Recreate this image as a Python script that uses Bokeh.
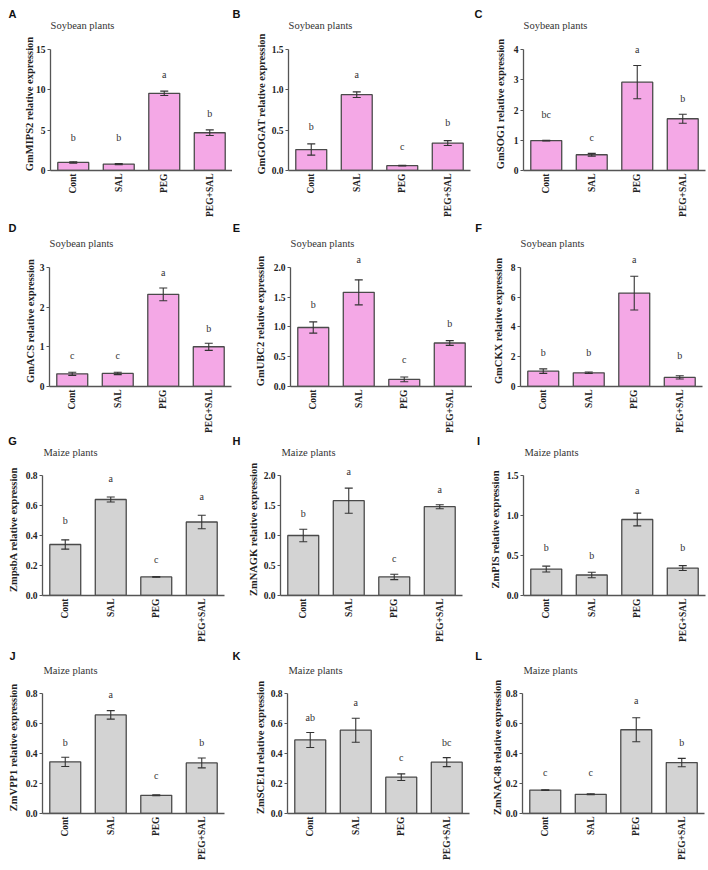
import math
from bokeh.plotting import figure
from bokeh.models import (FactorRange, Range1d, FixedTicker, NumeralTickFormatter,
                          Whisker, TeeHead, ColumnDataSource, LabelSet)
from bokeh.core.properties import value
from bokeh.layouts import row, column
from bokeh.embed import file_html
from bokeh.resources import INLINE

# ---------------- data ----------------
categories = ["Cont", "SAL", "PEG", "PEG+SAL"]

panel_letters = ["A", "B", "C", "D", "E", "F", "G", "H", "I", "J", "K", "L"]
species = ["Soybean plants"] * 6 + ["Maize plants"] * 6
genes = ["GmMIPS2", "GmGOGAT", "GmSOG1", "GmACS", "GmUBC2", "GmCKX",
         "ZmpsbA", "ZmNAGK", "ZmPIS", "ZmVPP1", "ZmSCE1d", "ZmNAC48"]

means_A = [1.0, 0.8, 9.57, 4.68]
err_A = [0.08, 0.07, 0.27, 0.35]
sig_A = ["b", "b", "a", "b"]
sigy_A = [4.1, 4.1, 11.9, 7.05]
ticks_A = [0, 5, 10, 15]

means_B = [0.26, 0.94, 0.06, 0.34]
err_B = [0.07, 0.035, 0.005, 0.03]
sig_B = ["b", "a", "c", "b"]
sigy_B = [0.54, 1.19, 0.30, 0.59]
ticks_B = [0.0, 0.5, 1.0, 1.5]

means_C = [0.99, 0.52, 2.92, 1.71]
err_C = [0.01, 0.045, 0.55, 0.15]
sig_C = ["bc", "c", "a", "b"]
sigy_C = [1.85, 1.10, 4.0, 2.38]
ticks_C = [0, 1, 2, 3, 4]

means_D = [0.32, 0.33, 2.32, 1.0]
err_D = [0.04, 0.03, 0.16, 0.09]
sig_D = ["c", "c", "a", "b"]
sigy_D = [0.79, 0.79, 2.87, 1.46]
ticks_D = [0, 1, 2, 3]

means_E = [0.99, 1.58, 0.12, 0.73]
err_E = [0.094, 0.21, 0.04, 0.04]
sig_E = ["b", "a", "c", "b"]
sigy_E = [1.38, 2.13, 0.46, 1.06]
ticks_E = [0.0, 0.5, 1.0, 1.5, 2.0]

means_F = [1.03, 0.92, 6.27, 0.61]
err_F = [0.15, 0.05, 1.13, 0.11]
sig_F = ["b", "b", "a", "b"]
sigy_F = [2.26, 2.26, 8.5, 2.08]
ticks_F = [0, 2, 4, 6, 8]

means_G = [0.34, 0.64, 0.124, 0.49]
err_G = [0.031, 0.017, 0.002, 0.045]
sig_G = ["b", "a", "c", "a"]
sigy_G = [0.50, 0.78, 0.24, 0.66]
ticks_G = [0.0, 0.2, 0.4, 0.6, 0.8]

means_H = [1.0, 1.58, 0.31, 1.48]
err_H = [0.105, 0.21, 0.045, 0.033]
sig_H = ["b", "a", "c", "a"]
sigy_H = [1.37, 2.07, 0.61, 1.76]
ticks_H = [0.0, 0.5, 1.0, 1.5, 2.0]

means_I = [0.33, 0.256, 0.95, 0.343]
err_I = [0.037, 0.035, 0.08, 0.03]
sig_I = ["b", "b", "a", "b"]
sigy_I = [0.60, 0.50, 1.31, 0.60]
ticks_I = [0.0, 0.5, 1.0, 1.5]

means_J = [0.344, 0.657, 0.121, 0.337]
err_J = [0.031, 0.028, 0.003, 0.033]
sig_J = ["b", "a", "c", "b"]
sigy_J = [0.474, 0.79, 0.253, 0.474]
ticks_J = [0.0, 0.2, 0.4, 0.6, 0.8]

means_K = [0.49, 0.555, 0.242, 0.342]
err_K = [0.05, 0.08, 0.022, 0.03]
sig_K = ["ab", "a", "c", "bc"]
sigy_K = [0.64, 0.74, 0.37, 0.474]
ticks_K = [0.0, 0.2, 0.4, 0.6, 0.8]

means_L = [0.156, 0.128, 0.558, 0.339]
err_L = [0.002, 0.003, 0.08, 0.028]
sig_L = ["c", "c", "a", "b"]
sigy_L = [0.275, 0.275, 0.75, 0.47]
ticks_L = [0.0, 0.2, 0.4, 0.6, 0.8]

all_means = [means_A, means_B, means_C, means_D, means_E, means_F,
             means_G, means_H, means_I, means_J, means_K, means_L]
all_errs = [err_A, err_B, err_C, err_D, err_E, err_F,
            err_G, err_H, err_I, err_J, err_K, err_L]
all_sigs = [sig_A, sig_B, sig_C, sig_D, sig_E, sig_F,
            sig_G, sig_H, sig_I, sig_J, sig_K, sig_L]
all_sigy = [sigy_A, sigy_B, sigy_C, sigy_D, sigy_E, sigy_F,
            sigy_G, sigy_H, sigy_I, sigy_J, sigy_K, sigy_L]
all_ticks = [ticks_A, ticks_B, ticks_C, ticks_D, ticks_E, ticks_F,
             ticks_G, ticks_H, ticks_I, ticks_J, ticks_K, ticks_L]
tick_formats = ["0", "0.0", "0", "0", "0.0", "0",
                "0.0", "0.0", "0.0", "0.0", "0.0", "0.0"]

# ---------------- layout / style ----------------
PINK = "#F4A8E6"
GRAY = "#D3D3D3"
EDGE = "#4a4a4a"
AXIS = "#555555"
SERIF = "Liberation Serif"
SANS = "Liberation Sans"

col_starts = [0, 232, 472]
page_right = 707
axis_x = [[50, 288, 523], [49, 290, 520], [42, 280, 523], [42, 287, 522]]
letter_x = [8, 232, 474]
row_tops = [49, 46, 40, 48]       # row start -> top tick
row_bottoms = [51, 47, 50, 48]    # zero line -> next row start
frame_hs = [121, 121, 120, 121]   # zero line -> top tick
letter_dy = [36, 40, 35, 38]      # letter centre above top tick
title_dy = [24, 24, 23, 23]       # species title centre above top tick
# y-axis title standoff per panel (tuned to the reference spacing)
label_standoff = [-2, 2, 5, 1, 5, 4, 4, 2, 3, 4, 2, 0]
FRAME_W = 182
EXT = 12          # extra plot height above the top tick (room for letters a/b/c)
GAP = 16          # part of the row top kept inside each panel figure
title_half_w = {"Soybean plants": 32, "Maize plants": 28}
LETTER_HALF_W = 4


def make_header(r):
    hh = row_tops[r] - GAP
    h = figure(width=page_right, height=hh, output_backend="svg", toolbar_location=None,
               x_range=Range1d(0, page_right), y_range=Range1d(0, hh),
               x_axis_location=None, y_axis_location=None,
               min_border=0, min_border_left=0, min_border_right=0,
               min_border_top=0, min_border_bottom=0,
               background_fill_color="white", border_fill_color="white")
    h.outline_line_color = None
    h.xgrid.visible = False
    h.ygrid.visible = False
    idx = [3 * r + c for c in range(3)]
    h.text(x=[letter_x[c] + LETTER_HALF_W for c in range(3)],
           y=[letter_dy[r] - GAP] * 3,
           text=[panel_letters[i] for i in idx],
           text_font=value(SANS), text_font_style="bold", text_font_size="11px",
           text_baseline="middle", text_align="center", text_color="#111111")
    h.text(x=[axis_x[r][c] + title_half_w[species[i]] for c, i in zip(range(3), idx)],
           y=[title_dy[r] - GAP] * 3,
           text=[species[i] for i in idx],
           text_font=value(SERIF), text_font_size="10.5px",
           text_baseline="middle", text_align="center", text_color="#333333")
    return h


def make_panel(i):
    r, c = divmod(i, 3)
    width = (col_starts[c + 1] if c < 2 else page_right) - col_starts[c]
    left = axis_x[r][c] - col_starts[c]
    right = max(0, width - left - FRAME_W)
    fh = frame_hs[r]
    height = GAP + fh + row_bottoms[r]
    ticks = all_ticks[i]
    top = ticks[-1]
    y_end = top * (1 + EXT / fh)

    p = figure(width=width, height=height, output_backend="svg", toolbar_location=None,
               x_range=FactorRange(*categories, range_padding=0),
               y_range=Range1d(0, y_end),
               min_border_left=left, min_border_right=right,
               min_border_top=GAP - EXT, min_border_bottom=row_bottoms[r],
               background_fill_color="white", border_fill_color="white")
    p.outline_line_color = None
    p.xgrid.visible = False
    p.ygrid.visible = False

    fill = PINK if i < 6 else GRAY
    means = all_means[i]
    errs = all_errs[i]
    src = ColumnDataSource(dict(x=categories, top=means,
                                upper=[m + e for m, e in zip(means, errs)],
                                lower=[m - e for m, e in zip(means, errs)]))
    p.vbar(x="x", top="top", width=0.68, source=src, fill_color=fill,
           line_color=EDGE, line_width=1.3)
    p.add_layout(Whisker(base="x", upper="upper", lower="lower", source=src,
                         level="overlay",
                         line_color="#333333", line_width=1.1,
                         upper_head=TeeHead(size=8, line_color="#333333", line_width=1.1),
                         lower_head=TeeHead(size=8, line_color="#333333", line_width=1.1)))

    sig_src = ColumnDataSource(dict(x=categories, y=all_sigy[i], t=all_sigs[i]))
    p.add_layout(LabelSet(x="x", y="y", text="t", source=sig_src, level="overlay",
                          text_align="center", text_baseline="middle",
                          text_font=SERIF, text_font_size="10px", text_color="#333333"))

    # axes
    p.yaxis.ticker = FixedTicker(ticks=ticks)
    p.yaxis.bounds = (0, top)
    p.yaxis.formatter = NumeralTickFormatter(format=tick_formats[i])
    p.yaxis.axis_label = genes[i] + " relative expression"
    p.yaxis.axis_label_text_font = SERIF
    p.yaxis.axis_label_text_font_style = "bold"
    p.yaxis.axis_label_text_font_size = "10.5px"
    p.yaxis.axis_label_text_color = "#222222"
    p.yaxis.axis_label_standoff = label_standoff[i]
    p.yaxis.major_label_text_font = SERIF
    p.yaxis.major_label_text_font_style = "bold"
    p.yaxis.major_label_text_font_size = "9.5px"
    p.yaxis.major_label_text_color = "#222222"
    p.yaxis.major_label_standoff = 2
    p.yaxis.major_tick_out = 3
    p.yaxis.major_tick_in = 0
    p.yaxis.minor_tick_line_color = None

    p.xaxis.major_label_orientation = math.pi / 2
    p.xaxis.major_label_text_font = SERIF
    p.xaxis.major_label_text_font_style = "bold"
    p.xaxis.major_label_text_font_size = "9.5px"
    p.xaxis.major_label_text_color = "#222222"
    p.xaxis.major_label_standoff = 3
    p.xaxis.major_tick_out = 0
    p.xaxis.major_tick_in = 0
    p.xaxis.minor_tick_line_color = None

    for ax in (p.xaxis, p.yaxis):
        ax.axis_line_color = AXIS
        ax.axis_line_width = 1.3
        ax.major_tick_line_width = 1.2
    p.xaxis.major_tick_line_color = None
    p.yaxis.major_tick_line_color = AXIS
    return p


panels = [make_panel(i) for i in range(12)]
items = []
for k in range(4):
    items.append(make_header(k))
    items.append(row(*panels[3 * k:3 * k + 3]))
layout = column(*items)

open("out.html", "w").write(file_html(layout, INLINE))
